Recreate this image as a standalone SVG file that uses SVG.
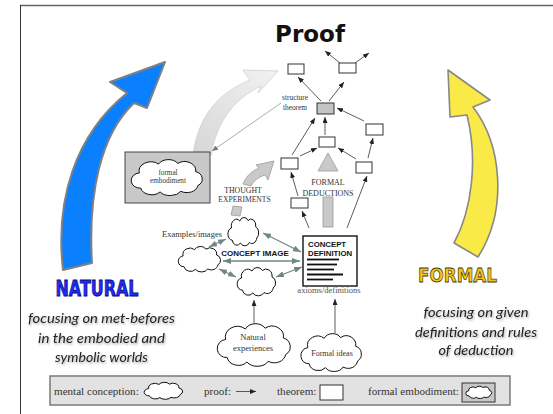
<svg xmlns="http://www.w3.org/2000/svg" xmlns:xlink="http://www.w3.org/1999/xlink" width="553" height="414" viewBox="0 0 553 414">
  <defs>
    <style>
      .serif { font-family: "Liberation Serif", "Times New Roman", serif; fill: #333; }
      .caps { font-family: "Liberation Sans", Arial, sans-serif; font-weight: bold; fill: #111; }
      .note { font-family: Lato, "Open Sans", sans-serif; font-style: italic; font-size: 14px; fill: #222; filter: url(#soft-shadow); }
      .theorem { fill: #fff; stroke: #333; stroke-width: 1; }
      .proof { fill: none; stroke: #333; stroke-width: 0.8; marker-end: url(#arrow-black); }
      .link { fill: none; stroke: #6f8884; stroke-width: 1.3; marker-start: url(#arrow-teal); marker-end: url(#arrow-teal); }
      .cloud { fill: #fff; stroke: #111; stroke-width: 1; }
      .flow { fill: #c9c9c9; stroke: #9a9a9a; stroke-width: 0.8; }
      .key { font-size: 11.1px; }
    </style>
    <filter id="soft-shadow" x="-10%" y="-30%" width="120%" height="170%">
      <feDropShadow dx="1" dy="1.5" stdDeviation="1.1" flood-color="#000" flood-opacity="0.35"/>
    </filter>
    <linearGradient id="pale-grey" x1="0" y1="1" x2="1" y2="0">
      <stop offset="0" stop-color="#d6d6d6"/>
      <stop offset="1" stop-color="#f2f2f2"/>
    </linearGradient>
    <marker id="arrow-black" viewBox="0 0 6 5" refX="6" refY="2.5" markerUnits="userSpaceOnUse" markerWidth="6" markerHeight="5" orient="auto">
      <path d="M0,0 L6,2.5 L0,5 Z" fill="#222"/>
    </marker>
    <marker id="arrow-grey" viewBox="0 0 6 5" refX="6" refY="2.5" markerUnits="userSpaceOnUse" markerWidth="6" markerHeight="5" orient="auto">
      <path d="M0,0 L6,2.5 L0,5 Z" fill="#777"/>
    </marker>
    <marker id="arrow-teal" viewBox="0 0 8 6" refX="8" refY="3" markerUnits="userSpaceOnUse" markerWidth="8" markerHeight="6" orient="auto-start-reverse">
      <path d="M0,0 L8,3 L0,6 Z" fill="#6f8884"/>
    </marker>
    <symbol id="cloud" viewBox="0 0 100 60" preserveAspectRatio="none" overflow="visible">
      <path class="cloud" vector-effect="non-scaling-stroke" d="M14,22 A16,14 0 0 1 40,8 A15,13 0 0 1 66,7 A15,14 0 0 1 90,20 A12,12 0 0 1 93,42 A15,13 0 0 1 70,51 A16,12 0 0 1 42,52 A15,13 0 0 1 16,46 A12,12 0 0 1 14,22 Z"/>
    </symbol>
  </defs>

  <rect width="553" height="414" fill="#fff"/>

  <!-- slide frame -->
  <line x1="20" y1="5.5" x2="553" y2="5.5" stroke="#666" stroke-width="1.5"/>
  <line x1="20.5" y1="5" x2="20.5" y2="414" stroke="#333" stroke-width="1"/>

  <text x="310" y="42" text-anchor="middle" font-family="'DejaVu Sans', sans-serif" font-weight="bold" font-size="23" fill="#111">Proof</text>

  <!-- side arrows -->
  <g id="natural-arrow">
    <path d="M63,270 C55,200 75,135 127,93 L110,82 L165,62 L147,108 L134,103 C100,135 88,195 92,263 Z" fill="#0a80ff" stroke="#808080" stroke-width="2" stroke-linejoin="round"/>
    <text x="97" y="296" text-anchor="middle" textLength="83" lengthAdjust="spacingAndGlyphs" font-family="'DejaVu Sans', sans-serif" font-weight="bold" font-size="21" fill="#1e2bff" stroke="#0a0a70" stroke-width="0.8">NATURAL</text>
    <text class="note" x="101.5" y="323" text-anchor="middle" textLength="147" lengthAdjust="spacingAndGlyphs">focusing on met-befores</text>
    <text class="note" x="101.5" y="343" text-anchor="middle" textLength="127" lengthAdjust="spacingAndGlyphs">in the embodied and</text>
    <text class="note" x="101.5" y="362" text-anchor="middle" textLength="93" lengthAdjust="spacingAndGlyphs">symbolic worlds</text>
  </g>

  <g id="formal-arrow">
    <path d="M454,243 C472,210 478,160 467,115 L450,117 L448,70 L490,100 L473,107 C502,145 508,210 478,257 Z" fill="#f9ea48" stroke="#888" stroke-width="1.6" stroke-linejoin="round"/>
    <text x="457.5" y="282" text-anchor="middle" textLength="79" lengthAdjust="spacingAndGlyphs" font-family="'DejaVu Sans', sans-serif" font-weight="bold" font-size="20" fill="#f7c61e" stroke="#4a3a00" stroke-width="0.8">FORMAL</text>
    <text class="note" x="476" y="317" text-anchor="middle" textLength="105" lengthAdjust="spacingAndGlyphs">focusing on given</text>
    <text class="note" x="476" y="337" text-anchor="middle" textLength="122" lengthAdjust="spacingAndGlyphs">definitions and rules</text>
    <text class="note" x="476" y="355" text-anchor="middle" textLength="75" lengthAdjust="spacingAndGlyphs">of deduction</text>
  </g>

  <!-- broad process arrows -->
  <g id="embodiment-arrow">
    <path d="M193,155 C198,115 220,92 250,80 L243,70 L278,71 L258,93 L261,86 C236,98 218,118 211,155 Z" fill="url(#pale-grey)" stroke="#cfcfcf" stroke-width="0.8"/>
  </g>

  <g id="thought-experiments">
    <polygon class="flow" points="233,206 242,207 240,216 231,215"/>
    <path class="flow" d="M243,184 Q247,173 259,168 L256,165 L274,161 L268,180 L265,175 Q255,178 251,186 Z"/>
    <text class="serif" x="243" y="192.7" text-anchor="middle" font-size="7.8">THOUGHT</text>
    <text class="serif" x="244.5" y="201.7" text-anchor="middle" font-size="7.6">EXPERIMENTS</text>
  </g>

  <g id="formal-deductions">
    <polygon class="flow" points="328,153 338,171 318,171"/>
    <rect class="flow" x="323" y="197" width="10" height="30"/>
    <text class="serif" x="328" y="185" text-anchor="middle" font-size="8">FORMAL</text>
    <text class="serif" x="328" y="195.5" text-anchor="middle" font-size="8">DEDUCTIONS</text>
  </g>

  <!-- formal embodiment -->
  <g id="formal-embodiment">
    <rect x="125" y="152" width="85" height="51" fill="#c8c8c8" stroke="#444" stroke-width="1"/>
    <use xlink:href="#cloud" x="129" y="159" width="74" height="38"/>
    <text class="serif" x="168" y="175" text-anchor="middle" font-size="7.2">formal</text>
    <text class="serif" x="168" y="183" text-anchor="middle" font-size="7.2">embodiment</text>
  </g>

  <!-- theorems -->
  <g id="theorem-top-left"><rect class="theorem" x="288" y="64" width="16" height="10"/></g>
  <g id="theorem-top-right"><rect class="theorem" x="339" y="63" width="17" height="10"/></g>
  <g id="structure-theorem">
    <rect x="317" y="103" width="17" height="11" fill="#c4c4c4" stroke="#333" stroke-width="1"/>
    <text class="serif" x="295" y="100" text-anchor="middle" font-size="7.4">structure</text>
    <text class="serif" x="295" y="110" text-anchor="middle" font-size="7.4">theorem</text>
  </g>
  <g id="theorem-right-upper"><rect class="theorem" x="366" y="124" width="17" height="11"/></g>
  <g id="theorem-centre"><rect class="theorem" x="319" y="137" width="16" height="10"/></g>
  <g id="theorem-left"><rect class="theorem" x="281" y="158" width="17" height="11"/></g>
  <g id="theorem-right-lower"><rect class="theorem" x="356" y="162" width="16" height="11"/></g>
  <g id="theorem-low-left"><rect class="theorem" x="291" y="198" width="17" height="10"/></g>

  <!-- concept image -->
  <g id="concept-image">
    <text class="caps" x="255" y="256" text-anchor="middle" font-size="8">CONCEPT IMAGE</text>
  </g>
  <g id="cloud-examples">
    <use xlink:href="#cloud" x="227" y="217" width="32" height="30"/>
  </g>
  <g id="cloud-left">
    <use xlink:href="#cloud" x="177" y="246" width="44" height="27"/>
    <text class="serif" x="192" y="237" text-anchor="middle" font-size="8.5">Examples/images</text>
  </g>
  <g id="cloud-lower">
    <use xlink:href="#cloud" x="236" y="267" width="40" height="30"/>
  </g>

  <!-- concept definition -->
  <g id="concept-definition">
    <rect x="303" y="236" width="54" height="50" fill="#fff" stroke="#222" stroke-width="1.5"/>
    <text class="caps" x="308" y="247" font-size="7.8">CONCEPT</text>
    <text class="caps" x="308" y="255.5" font-size="7.8">DEFINITION</text>
    <g stroke="#111" stroke-width="1.8">
      <line x1="307" y1="259.5" x2="339" y2="259.5"/>
      <line x1="307" y1="264.5" x2="337" y2="264.5"/>
      <line x1="307" y1="269.5" x2="334" y2="269.5"/>
      <line x1="307" y1="274.5" x2="343" y2="274.5"/>
      <line x1="307" y1="279.5" x2="333" y2="279.5"/>
    </g>
    <text class="serif" x="329" y="293" text-anchor="middle" font-size="8.5" style="fill:#555">axioms/definitions</text>
  </g>

  <g id="natural-experiences">
    <use xlink:href="#cloud" x="215" y="323" width="76" height="45"/>
    <text class="serif" x="253" y="340" text-anchor="middle" font-size="8.5">Natural</text>
    <text class="serif" x="253" y="351" text-anchor="middle" font-size="8.5">experiences</text>
  </g>
  <g id="formal-ideas">
    <use xlink:href="#cloud" x="299" y="333" width="63" height="40"/>
    <text class="serif" x="332" y="356" text-anchor="middle" font-size="8">Formal ideas</text>
  </g>

  <!-- connectors -->
  <g id="connectors">
    <line class="proof" x1="340" y1="63" x2="325" y2="51"/>
    <line class="proof" x1="355" y1="63" x2="369" y2="53"/>
    <line class="proof" x1="321" y1="101" x2="298" y2="77"/>
    <line class="proof" x1="329" y1="101" x2="344" y2="82"/>
    <line class="proof" x1="364" y1="121" x2="337" y2="108"/>
    <line class="proof" x1="325" y1="135" x2="325" y2="117"/>
    <line class="proof" x1="292" y1="155" x2="315" y2="118"/>
    <line class="proof" x1="300" y1="156" x2="317" y2="148"/>
    <line class="proof" x1="356" y1="159" x2="338" y2="148"/>
    <line class="proof" x1="368" y1="158" x2="373" y2="138"/>
    <line class="proof" x1="298" y1="196" x2="291" y2="172"/>
    <line class="proof" x1="309" y1="228" x2="302" y2="211"/>
    <line class="proof" x1="347" y1="228" x2="367" y2="176"/>
    <line class="proof" x1="254" y1="323" x2="254" y2="300"/>
    <line class="proof" x1="335" y1="333" x2="335" y2="299"/>
    <line x1="281" y1="103" x2="212" y2="151" stroke="#888" stroke-width="0.7" marker-end="url(#arrow-grey)"/>
    <line class="link" x1="209" y1="247" x2="226" y2="239"/>
    <line class="link" x1="263" y1="233" x2="301" y2="252"/>
    <line class="link" x1="223" y1="261" x2="300" y2="261"/>
    <line class="link" x1="219" y1="269" x2="236" y2="277"/>
    <line class="link" x1="276" y1="277" x2="302" y2="267"/>
  </g>

  <!-- key -->
  <g id="legend">
    <rect x="50" y="376" width="460" height="29" fill="#e2e2e2" stroke="#7a7a7a" stroke-width="1.5"/>
    <text class="serif key" x="54" y="395">mental conception:</text>
    <use xlink:href="#cloud" x="143" y="382" width="40" height="18"/>
    <text class="serif key" x="204" y="395">proof:</text>
    <line class="proof" x1="236" y1="391.5" x2="256" y2="391.5"/>
    <text class="serif key" x="277" y="395">theorem:</text>
    <rect class="theorem" x="320" y="385" width="23" height="15"/>
    <text class="serif key" x="368" y="395">formal embodiment:</text>
    <rect x="462" y="383" width="33" height="19" fill="#c8c8c8" stroke="#333" stroke-width="1"/>
    <use xlink:href="#cloud" x="465" y="386" width="27" height="13"/>
  </g>
</svg>
